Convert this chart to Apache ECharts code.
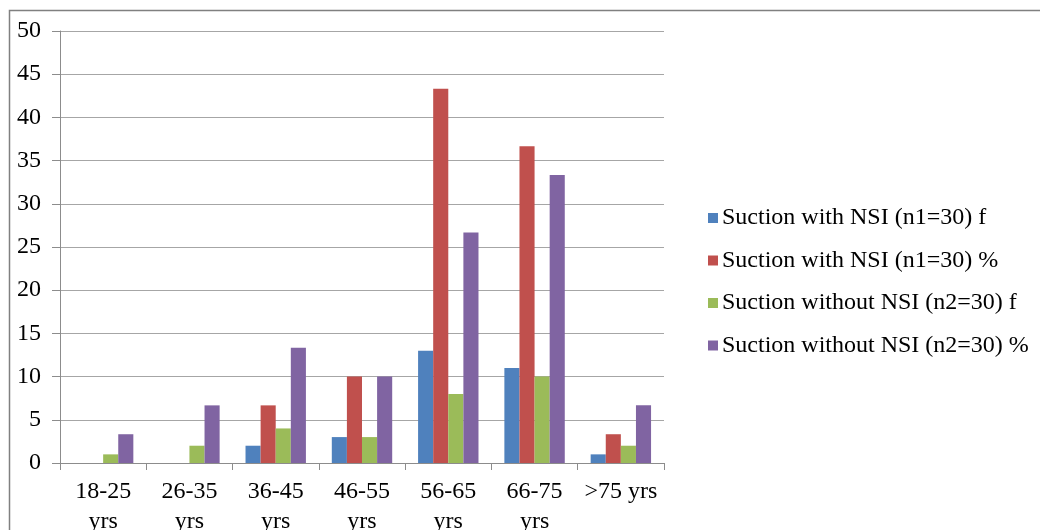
<!DOCTYPE html>
<html><head><meta charset="utf-8">
<script src="https://cdn.jsdelivr.net/npm/echarts@6/dist/echarts.min.js"></script>
<style>html,body{margin:0;padding:0;background:#fff}#c{width:1040px;height:530px}</style>
</head><body><div id="c"></div>
<script>
var categories = ['18-25\nyrs','26-35\nyrs','36-45\nyrs','46-55\nyrs','56-65\nyrs','66-75\nyrs','>75 yrs'];
var seriesNames = ['Suction with NSI (n1=30) f','Suction with NSI (n1=30) %','Suction without NSI (n2=30) f','Suction without NSI (n2=30) %'];
var withF = [0,0,2,3,13,11,1];
var withPct = [0,0,6.67,10,43.33,36.67,3.33];
var withoutF = [1,2,4,3,8,10,2];
var withoutPct = [3.33,6.67,13.33,10,26.67,33.33,6.67];
var yTicks = {min:0,max:50,interval:5};
var colors = ['#4F81BD','#C0504D','#9BBB59','#8064A2'];

var font = 'Liberation Serif, Times New Roman, serif';
var chart = echarts.init(document.getElementById('c'));
var data = [withF, withPct, withoutF, withoutPct];
chart.setOption({
  animation:false,
  color: colors,
  textStyle:{fontFamily:font},
  graphic:[{type:'rect',shape:{x:9.5,y:10.5,width:1100,height:600},style:{fill:'none',stroke:'#808080',lineWidth:1.5},silent:true,z:-1}],
  grid:{left:60,right:376,top:31,bottom:67,containLabel:false,outerBoundsMode:'none'},
  legend:{
    orient:'vertical',left:703,top:201,itemWidth:10,itemHeight:10,itemGap:18.5,
    icon:'rect',
    textStyle:{fontFamily:font,fontSize:24,lineHeight:24,color:'#000',padding:[0,0,0,-1]},
    data:seriesNames
  },
  xAxis:{type:'category',data:categories,
    axisLine:{lineStyle:{color:'#8c8c8c',width:1}},
    axisTick:{show:true,length:7,lineStyle:{color:'#8c8c8c'}},
    axisLabel:{color:'#000',fontSize:24,fontFamily:font,margin:14,lineHeight:30,interval:0}
  },
  yAxis:{type:'value',min:yTicks.min,max:yTicks.max,interval:yTicks.interval,
    axisLine:{show:true,lineStyle:{color:'#8c8c8c'}},
    axisTick:{show:true,length:8,lineStyle:{color:'#8c8c8c'}},
    axisLabel:{color:'#000',fontSize:24,fontFamily:font,margin:19},
    splitLine:{lineStyle:{color:'#a6a6a6',width:1}}
  },
  series: seriesNames.map(function(n,i){return {name:n,type:'bar',data:data[i],barGap:'0%',barCategoryGap:'30%'};})
});
</script></body></html>
